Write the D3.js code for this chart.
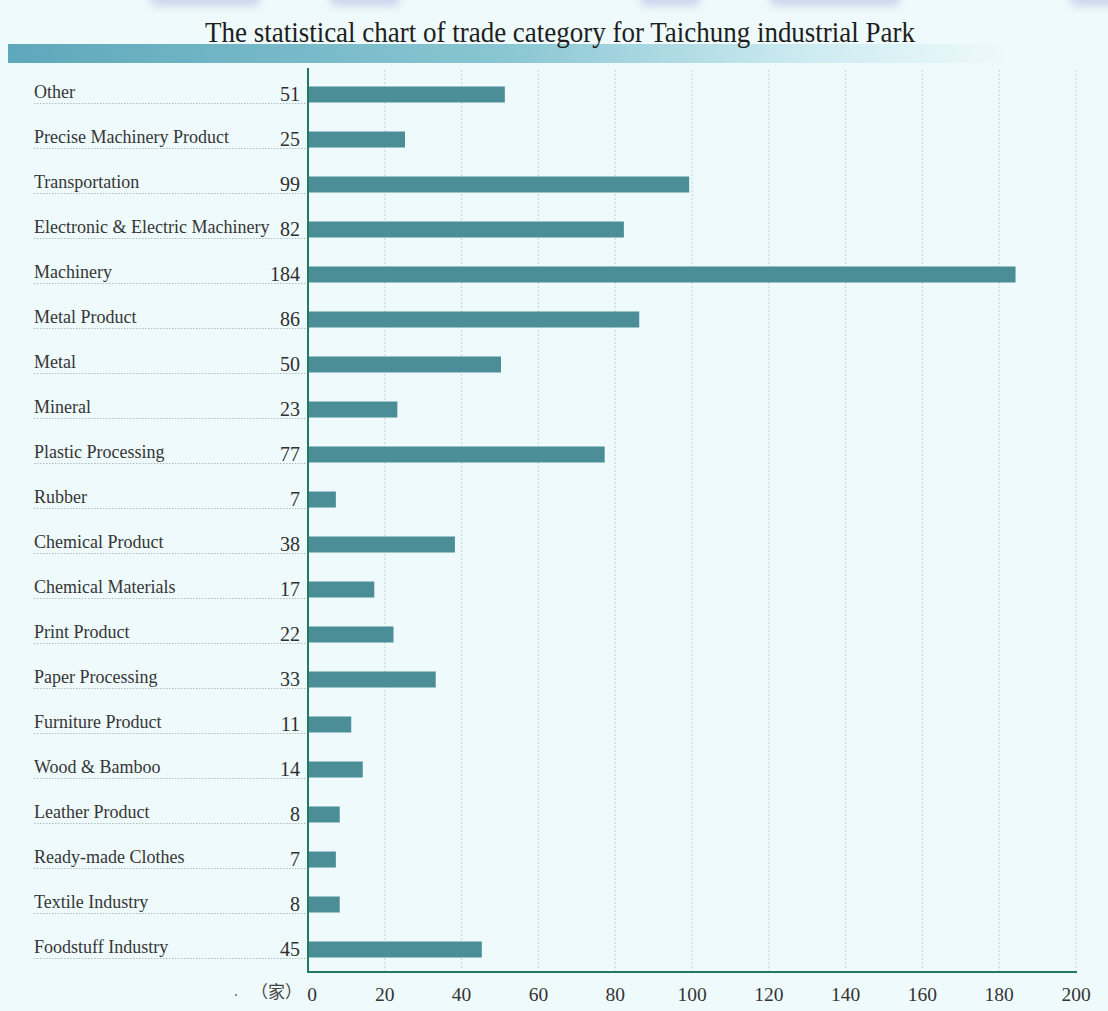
<!DOCTYPE html>
<html>
<head>
<meta charset="utf-8">
<script src="https://cdn.jsdelivr.net/npm/d3@7"></script>
<style>
  html, body { margin: 0; padding: 0; background: #eefafb; }
  svg { display: block; }
</style>
</head>
<body>
<div id="chart"></div>
<script>
"use strict";

// data, top row first
var categories = ["Other", "Precise Machinery Product", "Transportation",
  "Electronic & Electric Machinery", "Machinery", "Metal Product", "Metal",
  "Mineral", "Plastic Processing", "Rubber", "Chemical Product",
  "Chemical Materials", "Print Product", "Paper Processing", "Furniture Product",
  "Wood & Bamboo", "Leather Product", "Ready-made Clothes", "Textile Industry",
  "Foodstuff Industry"];
var counts = [51, 25, 99, 82, 184, 86, 50, 23, 77, 7, 38, 17, 22, 33, 11, 14, 8, 7, 8, 45];
var xTicks = [0, 20, 40, 60, 80, 100, 120, 140, 160, 180, 200];
var title = "The statistical chart of trade category for Taichung industrial Park";
var unitLabel = "（家）";

(function() {
  var width = 1108,
      height = 1011,
      plotLeft = 308, plotRight = 1076,
      plotTop = 72, plotBottom = 972,
      barH = 16,
      serif = "Liberation Serif, Times New Roman, Times, serif";

  var rows = categories.map(function(c, i) { return { name: c, value: counts[i] }; });

  var x = d3.scaleLinear().domain([0, 200]).range([plotLeft, plotRight]),
      y = d3.scaleBand().domain(categories).range([plotTop, plotBottom]);

  var svg = d3.select("#chart").append("svg")
      .attr("width", width)
      .attr("height", height)
      .attr("font-family", serif);

  var defs = svg.append("defs");
  var grad = defs.append("linearGradient").attr("id", "band");
  grad.append("stop").attr("offset", "0%").attr("stop-color", "#5ea8bb");
  grad.append("stop").attr("offset", "50%").attr("stop-color", "#8ac6d3");
  grad.append("stop").attr("offset", "80%").attr("stop-color", "#cdebf1");
  grad.append("stop").attr("offset", "100%").attr("stop-color", "#eefafb");

  var blur = defs.append("filter").attr("id", "blur")
      .attr("x", "-20%").attr("y", "-50%").attr("width", "140%").attr("height", "200%");
  blur.append("feGaussianBlur").attr("stdDeviation", 4);

  svg.append("rect").attr("width", width).attr("height", height).attr("fill", "#eefafb");

  // faint logo remnants along the top edge
  var blobs = [[150, 110], [330, 70], [640, 60], [770, 130], [1070, 200]];
  svg.append("g").attr("filter", "url(#blur)")
    .selectAll("rect").data(blobs).enter().append("rect")
      .attr("x", function(d) { return d[0]; })
      .attr("y", -8)
      .attr("width", function(d) { return d[1]; })
      .attr("height", 14)
      .attr("rx", 6)
      .attr("fill", "#a7b0e4")
      .attr("opacity", 0.5);

  // title band
  svg.append("rect")
      .attr("x", 8).attr("y", 44)
      .attr("width", 1000).attr("height", 19)
      .attr("fill", "url(#band)");

  svg.append("text")
      .attr("x", 560).attr("y", 42)
      .attr("text-anchor", "middle")
      .attr("textLength", 710)
      .attr("lengthAdjust", "spacingAndGlyphs")
      .attr("font-size", 30)
      .attr("fill", "#1e1e1e")
      .text(title);

  // vertical dashed grid
  svg.append("g").selectAll("line")
      .data(xTicks.slice(1)).enter().append("line")
      .attr("x1", function(d) { return x(d); })
      .attr("x2", function(d) { return x(d); })
      .attr("y1", 70).attr("y2", plotBottom)
      .attr("stroke", "#c3d3d6")
      .attr("stroke-width", 1)
      .attr("stroke-dasharray", "2,2");

  // row dotted underlines
  svg.append("g").selectAll("line")
      .data(rows).enter().append("line")
      .attr("x1", 34).attr("x2", plotLeft)
      .attr("y1", function(d) { return y(d.name) + y.bandwidth() / 2 + 9; })
      .attr("y2", function(d) { return y(d.name) + y.bandwidth() / 2 + 9; })
      .attr("stroke", "#aebfc4")
      .attr("stroke-width", 1)
      .attr("stroke-dasharray", "1.5,1.5");

  // bars
  svg.append("g").selectAll("rect")
      .data(rows).enter().append("rect")
      .attr("x", x(0) + 1)
      .attr("y", function(d) { return y(d.name) + (y.bandwidth() - barH) / 2; })
      .attr("width", function(d) { return x(d.value) - x(0); })
      .attr("height", barH)
      .attr("fill", "#4b8e98");

  // category names
  svg.append("g").selectAll("text")
      .data(rows).enter().append("text")
      .attr("x", 34)
      .attr("y", function(d) { return y(d.name) + y.bandwidth() / 2 + 3.5; })
      .attr("font-size", 18)
      .attr("fill", "#363636")
      .text(function(d) { return d.name; });

  // values
  svg.append("g").selectAll("text")
      .data(rows).enter().append("text")
      .attr("x", 300)
      .attr("y", function(d) { return y(d.name) + y.bandwidth() / 2 + 6; })
      .attr("text-anchor", "end")
      .attr("font-size", 20)
      .attr("fill", "#2f2f2f")
      .text(function(d) { return d.value; });

  // axis lines
  svg.append("line")
      .attr("x1", plotLeft).attr("x2", plotLeft)
      .attr("y1", 68).attr("y2", plotBottom + 1)
      .attr("stroke", "#1f7a60").attr("stroke-width", 2);
  svg.append("line")
      .attr("x1", plotLeft - 1).attr("x2", plotRight + 1)
      .attr("y1", plotBottom).attr("y2", plotBottom)
      .attr("stroke", "#1f7a60").attr("stroke-width", 2);

  // tick labels
  svg.append("g").selectAll("text")
      .data(xTicks).enter().append("text")
      .attr("x", function(d) { return d === 0 ? x(d) + 4 : x(d); })
      .attr("y", 1001)
      .attr("text-anchor", "middle")
      .attr("font-size", 19.5)
      .attr("fill", "#333")
      .text(function(d) { return d; });

  svg.append("text")
      .attr("x", 302).attr("y", 998)
      .attr("text-anchor", "end")
      .attr("font-family", "Noto Sans CJK TC, Noto Sans CJK SC, serif")
      .attr("font-size", 17)
      .attr("fill", "#444")
      .text(unitLabel);

  svg.append("circle").attr("cx", 236).attr("cy", 995).attr("r", 1).attr("fill", "#666");
})();
</script>
</body>
</html>
